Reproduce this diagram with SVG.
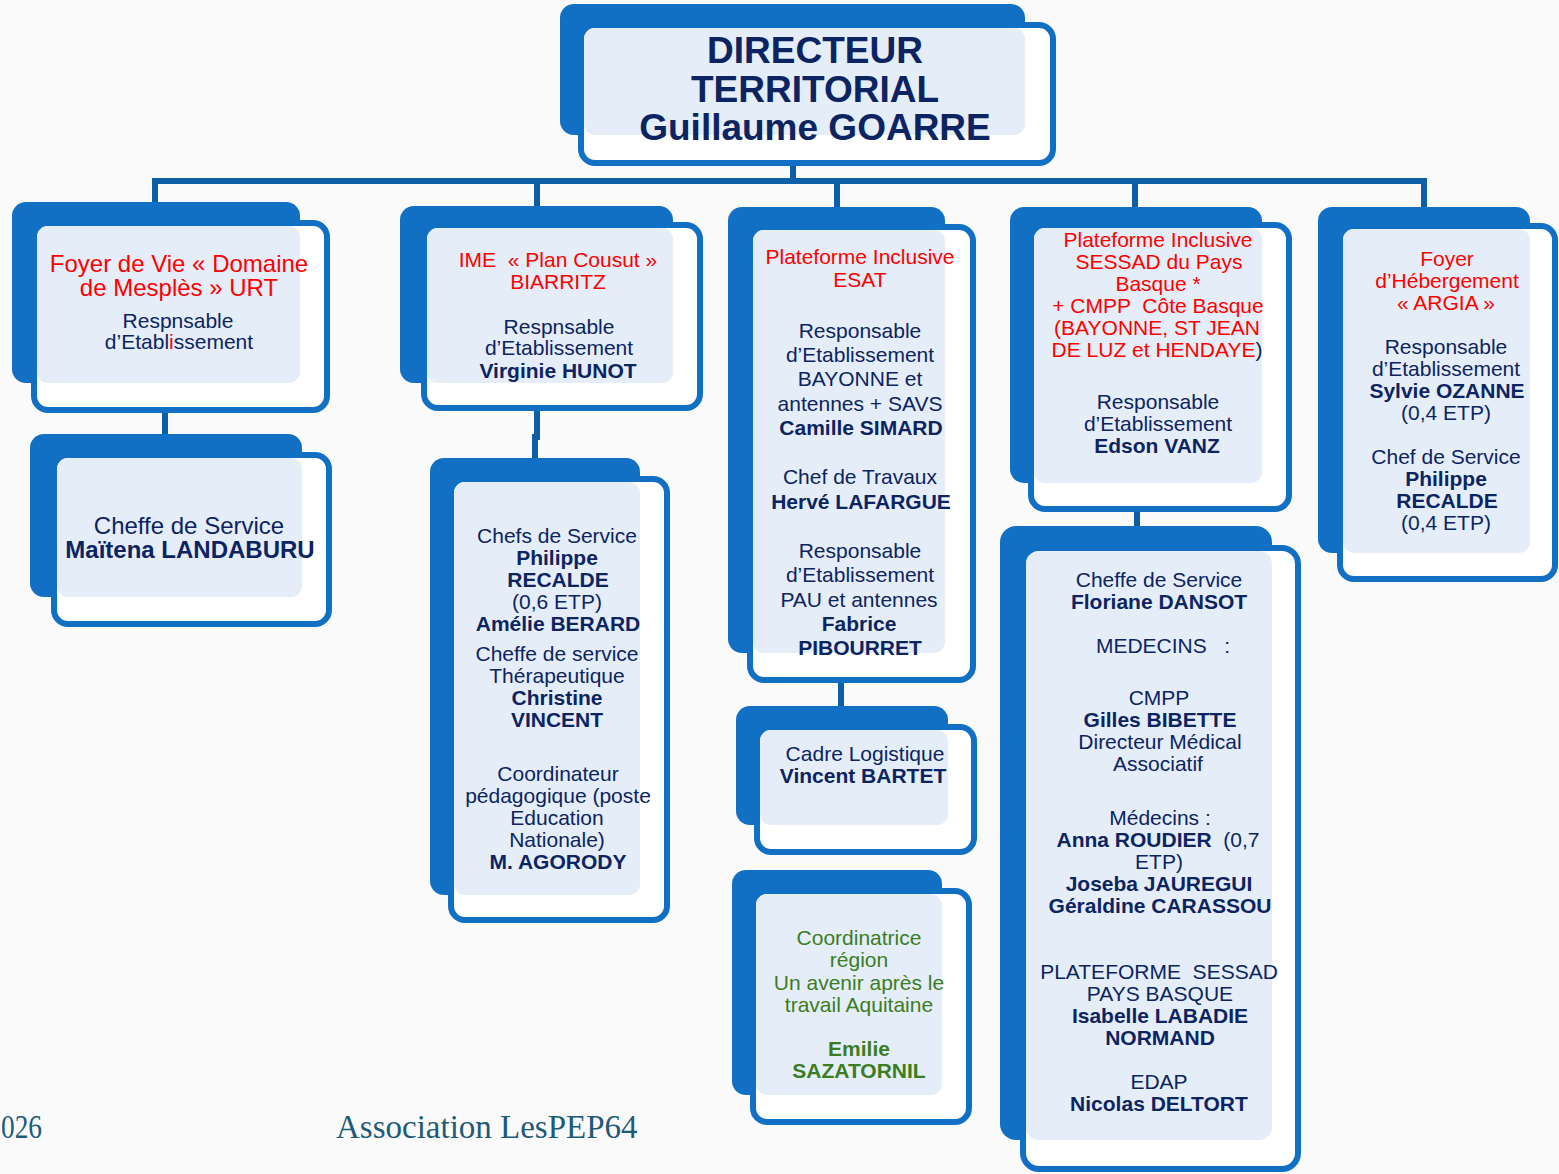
<svg xmlns="http://www.w3.org/2000/svg" width="1559" height="1174" viewBox="0 0 1559 1174">
<style>
.back{fill:#1170c4}
.front{fill:#ffffff;stroke:#1170c4;stroke-width:6}
.inner{fill:#e5eef8}
.con{stroke:#0f5ea8;stroke-width:6;fill:none}
.lcon{stroke:#d6e4f3;stroke-width:6;fill:none}
text{font-family:"Liberation Sans",Arial,sans-serif;font-size:21px;fill:#0c2461;text-anchor:middle;white-space:pre}
.r{fill:#ff0000}
.g{fill:#3a7d22}
.b{font-weight:bold}
.dir{font-size:37px;font-weight:bold}
.big{font-size:24px}
.foot{font-family:"Liberation Serif","Times New Roman",serif;font-size:33px;fill:#1d5b79;text-anchor:start}
</style>
<rect width="1559" height="1174" fill="#fafafa"/>

<g id="connectors">
  <line class="lcon" x1="793" y1="142" x2="793" y2="166"/>
  <line class="con" x1="793" y1="166" x2="793" y2="181"/>
  <line class="con" x1="152" y1="181" x2="1427" y2="181"/>
  <line class="con" x1="155" y1="181" x2="155" y2="203"/>
  <line class="con" x1="537" y1="181" x2="537" y2="207"/>
  <line class="con" x1="837" y1="181" x2="837" y2="208"/>
  <line class="con" x1="1135" y1="181" x2="1135" y2="208"/>
  <line class="con" x1="1424" y1="181" x2="1424" y2="208"/>
  <line class="lcon" x1="156" y1="389" x2="156" y2="410"/>
  <line class="con" x1="165" y1="413" x2="165" y2="435"/>
  <line class="lcon" x1="536" y1="389" x2="536" y2="408"/>
  <path class="con" d="M537 411 V437 H535 V459"/>
  <line class="lcon" x1="837" y1="659" x2="837" y2="680"/>
  <line class="con" x1="841" y1="683" x2="841" y2="707"/>
  <line class="lcon" x1="1135" y1="489" x2="1135" y2="509"/>
  <line class="con" x1="1137" y1="512" x2="1137" y2="527"/>
</g>

<g id="director">
  <rect class="back" x="560" y="4" width="465" height="131" rx="14"/>
  <rect class="front" x="581" y="25" width="472" height="138" rx="14"/>
  <rect class="inner" x="584" y="28" width="441" height="107" rx="11"/>
  <text class="dir" x="815" y="63">DIRECTEUR</text>
  <text class="dir" x="815" y="102">TERRITORIAL</text>
  <text class="dir" x="815" y="140">Guillaume GOARRE</text>
</g>

<g id="foyer-vie">
  <rect class="back" x="12" y="202" width="288" height="181" rx="14"/>
  <rect class="front" x="34" y="223" width="293" height="187" rx="14"/>
  <rect class="inner" x="37" y="226" width="263" height="157" rx="11"/>
  <text class="r big" x="179" y="272">Foyer de Vie « Domaine</text>
  <text class="r big" x="179" y="296">de Mesplès » URT</text>
  <text x="178" y="328">Respnsable</text>
  <text x="179" y="349">d’Etabl<tspan class="r">i</tspan>ssement</text>
</g>

<g id="foyer-vie-chef">
  <rect class="back" x="30" y="434" width="272" height="163" rx="14"/>
  <rect class="front" x="54" y="455" width="275" height="169" rx="14"/>
  <rect class="inner" x="57" y="458" width="245" height="139" rx="11"/>
  <text class="big" x="189" y="534">Cheffe de Service</text>
  <text class="big b" x="190" y="558">Maïtena LANDABURU</text>
</g>

<g id="ime">
  <rect class="back" x="400" y="206" width="273" height="177" rx="14"/>
  <rect class="front" x="424" y="225" width="276" height="183" rx="14"/>
  <rect class="inner" x="427" y="228" width="246" height="155" rx="11"/>
  <text class="r" x="558" y="267">IME  « Plan Cousut »</text>
  <text class="r" x="558" y="289">BIARRITZ</text>
  <text x="559" y="334">Respnsable</text>
  <text x="559" y="355">d’Etablissement</text>
  <text class="b" x="558" y="378">Virginie HUNOT</text>
</g>

<g id="ime-chefs">
  <rect class="back" x="430" y="458" width="210" height="437" rx="14"/>
  <rect class="front" x="451" y="479" width="216" height="441" rx="14"/>
  <rect class="inner" x="454" y="482" width="186" height="413" rx="11"/>
  <text x="557" y="543">Chefs de Service</text>
  <text class="b" x="557" y="565">Philippe</text>
  <text class="b" x="558" y="587">RECALDE</text>
  <text x="557" y="609">(0,6 ETP)</text>
  <text class="b" x="558" y="631">Amélie BERARD</text>
  <text x="557" y="661">Cheffe de service</text>
  <text x="557" y="683">Thérapeutique</text>
  <text class="b" x="557" y="705">Christine</text>
  <text class="b" x="557" y="727">VINCENT</text>
  <text x="558" y="781">Coordinateur</text>
  <text x="558" y="803">pédagogique (poste</text>
  <text x="557" y="825">Education</text>
  <text x="557" y="847">Nationale)</text>
  <text class="b" x="558" y="869">M. AGORODY</text>
</g>

<g id="esat">
  <rect class="back" x="728" y="207" width="217" height="446" rx="14"/>
  <rect class="front" x="750" y="227" width="223" height="453" rx="14"/>
  <rect class="inner" x="753" y="230" width="192" height="423" rx="11"/>
  <text class="r" x="860" y="264">Plateforme Inclusive</text>
  <text class="r" x="860" y="287">ESAT</text>
  <text x="860" y="338">Responsable</text>
  <text x="860" y="362">d’Etablissement</text>
  <text x="860" y="386">BAYONNE et</text>
  <text x="860" y="411">antennes + SAVS</text>
  <text class="b" x="861" y="435">Camille SIMARD</text>
  <text x="860" y="484">Chef de Travaux</text>
  <text class="b" x="861" y="509">Hervé LAFARGUE</text>
  <text x="860" y="558">Responsable</text>
  <text x="860" y="582">d’Etablissement</text>
  <text x="859" y="607">PAU et antennes</text>
  <text class="b" x="859" y="631">Fabrice</text>
  <text class="b" x="860" y="655">PIBOURRET</text>
</g>

<g id="cadre-logistique">
  <rect class="back" x="736" y="706" width="212" height="119" rx="14"/>
  <rect class="front" x="757" y="727" width="217" height="125" rx="14"/>
  <rect class="inner" x="760" y="730" width="188" height="95" rx="11"/>
  <text x="865" y="761">Cadre Logistique</text>
  <text class="b" x="863" y="783">Vincent BARTET</text>
</g>

<g id="coordinatrice">
  <rect class="back" x="732" y="870" width="210" height="225" rx="14"/>
  <rect class="front" x="753" y="891" width="216" height="231" rx="14"/>
  <rect class="inner" x="756" y="894" width="186" height="201" rx="11"/>
  <text class="g" x="859" y="945">Coordinatrice</text>
  <text class="g" x="859" y="967">région</text>
  <text class="g" x="859" y="990">Un avenir après le</text>
  <text class="g" x="859" y="1012">travail Aquitaine</text>
  <text class="g b" x="859" y="1056">Emilie</text>
  <text class="g b" x="859" y="1078">SAZATORNIL</text>
</g>

<g id="sessad">
  <rect class="back" x="1010" y="207" width="252" height="276" rx="14"/>
  <rect class="front" x="1031" y="225" width="258" height="284" rx="14"/>
  <rect class="inner" x="1034" y="228" width="228" height="255" rx="11"/>
  <text class="r" x="1158" y="247">Plateforme Inclusive</text>
  <text class="r" x="1159" y="269">SESSAD du Pays</text>
  <text class="r" x="1158" y="291">Basque *</text>
  <text class="r" x="1158" y="313">+ CMPP  Côte Basque</text>
  <text class="r" x="1157" y="335">(BAYONNE, ST JEAN</text>
  <text class="r" x="1157" y="357">DE LUZ et HENDAYE<tspan fill="#0c2461">)</tspan></text>
  <text x="1158" y="409">Responsable</text>
  <text x="1158" y="431">d’Etablissement</text>
  <text class="b" x="1157" y="453">Edson VANZ</text>
</g>

<g id="cmpp-medecins">
  <rect class="back" x="1000" y="526" width="272" height="614" rx="16"/>
  <rect class="front" x="1023" y="548" width="275" height="621" rx="16"/>
  <rect class="inner" x="1026" y="551" width="246" height="589" rx="13"/>
  <text x="1159" y="587">Cheffe de Service</text>
  <text class="b" x="1159" y="609">Floriane DANSOT</text>
  <text x="1163" y="653">MEDECINS   :</text>
  <text x="1159" y="705">CMPP</text>
  <text class="b" x="1160" y="727">Gilles BIBETTE</text>
  <text x="1160" y="749">Directeur Médical</text>
  <text x="1158" y="771">Associatif</text>
  <text x="1160" y="825">Médecins :</text>
  <text x="1158" y="847"><tspan font-weight="bold">Anna ROUDIER</tspan>  (0,7</text>
  <text x="1159" y="869">ETP)</text>
  <text class="b" x="1159" y="891">Joseba JAUREGUI</text>
  <text class="b" x="1160" y="913">Géraldine CARASSOU</text>
  <text x="1159" y="979">PLATEFORME  SESSAD</text>
  <text x="1160" y="1001">PAYS BASQUE</text>
  <text class="b" x="1160" y="1023">Isabelle LABADIE</text>
  <text class="b" x="1160" y="1045">NORMAND</text>
  <text x="1159" y="1089">EDAP</text>
  <text class="b" x="1159" y="1111">Nicolas DELTORT</text>
</g>

<g id="foyer-argia">
  <rect class="back" x="1318" y="207" width="212" height="346" rx="14"/>
  <rect class="front" x="1340" y="226" width="215" height="353" rx="14"/>
  <rect class="inner" x="1343" y="229" width="187" height="324" rx="11"/>
  <text class="r" x="1447" y="266">Foyer</text>
  <text class="r" x="1447" y="288">d’Hébergement</text>
  <text class="r" x="1446" y="310">« ARGIA »</text>
  <text x="1446" y="354">Responsable</text>
  <text x="1446" y="376">d’Etablissement</text>
  <text class="b" x="1447" y="398">Sylvie OZANNE</text>
  <text x="1446" y="420">(0,4 ETP)</text>
  <text x="1446" y="464">Chef de Service</text>
  <text class="b" x="1446" y="486">Philippe</text>
  <text class="b" x="1447" y="508">RECALDE</text>
  <text x="1446" y="530">(0,4 ETP)</text>
</g>

<g id="footer">
  <text class="foot" x="1" y="1138" textLength="41" lengthAdjust="spacingAndGlyphs">026</text>
  <text class="foot" x="336" y="1138">Association LesPEP64</text>
</g>
</svg>
